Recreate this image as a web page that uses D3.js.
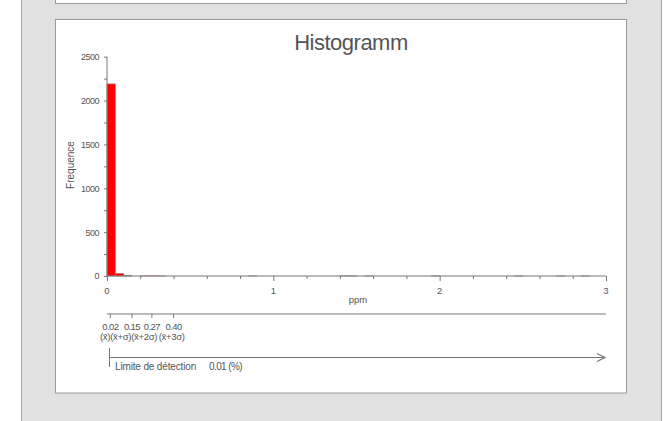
<!DOCTYPE html>
<html>
<head>
<meta charset="utf-8">
<script src="https://cdn.jsdelivr.net/npm/d3@7"></script>
<style>
  html, body { margin: 0; padding: 0; background: #fff; }
  svg { display: block; font-family: "Liberation Sans", Arial, sans-serif; }
  .lbl { fill: #555; }
</style>
</head>
<body>
<div id="chart"></div>
<script>
// histogram bins (ppm), only non-empty bins
const binStarts = [0, 0.05, 0.1, 0.2, 0.25, 0.3, 0.85, 1.4, 1.45, 1.55, 1.95, 2.45, 2.7, 2.85];
const counts = [2190, 30, 5, 1, 1, 1, 1, 1, 1, 1, 1, 1, 1, 1];
const binWidth = 0.05;

const xTicks = [0, 1, 2, 3];
const yTicks = [0, 500, 1000, 1500, 2000, 2500];

// summary statistics
const statValues = [0.02, 0.15, 0.27, 0.40];
const statTexts = ["0.02", "0.15", "0.27", "0.40"];
const statNames = ["(x\u0304)", "(x\u0304+\u03c3)", "(x\u0304+2\u03c3)", "(x\u0304+3\u03c3)"];
const detectionLimit = "0.01 (%)";

const W = 668, H = 421;
const svg = d3.select("#chart").append("svg").attr("width", W).attr("height", H);

// gray frame and panels
svg.append("rect").attr("x", 21.5).attr("y", -1).attr("width", 640).attr("height", H + 2)
    .attr("fill", "#e1e1e1").attr("stroke", "#a6a6a6");
svg.append("rect").attr("x", 55.5).attr("y", -10).attr("width", 571).attr("height", 13.5)
    .attr("fill", "#fff").attr("stroke", "#9a9a9a");
svg.append("rect").attr("x", 55.5).attr("y", 19.5).attr("width", 571).attr("height", 373.5)
    .attr("fill", "#fff").attr("stroke", "#9a9a9a");

const x = d3.scaleLinear().domain([0, 3]).range([107, 606]);
const y = d3.scaleLinear().domain([0, 2500]).range([276, 56.7]);

svg.append("text").attr("class", "lbl")
    .attr("x", 351).attr("y", 50).attr("text-anchor", "middle")
    .style("font-size", "22px").style("letter-spacing", "-0.5px")
    .text("Histogramm");

// bars
svg.append("g").selectAll("rect")
    .data(binStarts.map((b, i) => ({ b, c: counts[i] })))
    .join("rect")
    .attr("x", d => x(d.b))
    .attr("width", d => x(d.b + binWidth) - x(d.b))
    .attr("y", d => y(d.c))
    .attr("height", d => y(0) - y(d.c))
    .attr("fill", "#ff0000")
    .attr("stroke", "#a08080")
    .attr("stroke-width", 0.7);

// y axis
const yAxis = svg.append("g").attr("transform", `translate(${x(0)},0)`);
yAxis.call(d3.axisLeft(y).tickValues(d3.range(0, 2501, 250)).tickSize(3).tickFormat(d => yTicks.includes(d) ? d : ""));
yAxis.select(".domain").attr("stroke", "#777").attr("d", `M0,${y(2500)}V${y(0)}`);
yAxis.selectAll(".tick line").attr("stroke", "#777");
yAxis.selectAll(".tick text").attr("fill", "#555").attr("x", -8)
    .style("font-size", "9px").style("letter-spacing", "-0.5px").style("font-family", "inherit");

svg.append("text").attr("class", "lbl")
    .attr("transform", "translate(74,165) rotate(-90)")
    .attr("text-anchor", "middle").style("font-size", "10px")
    .text("Frequence");

// x axis
const xAxis = svg.append("g").attr("transform", `translate(0,${y(0)})`);
xAxis.call(d3.axisBottom(x).tickValues(d3.range(0, 3.01, 0.2)).tickSize(3).tickFormat(""));
xAxis.select(".domain").attr("stroke", "#777").attr("d", `M${x(0)},0H${x(3)}`);
xAxis.selectAll(".tick line").attr("stroke", "#777")
    .attr("y2", d => Math.abs(d - Math.round(d)) < 1e-6 ? 5 : 3);
svg.append("g").selectAll("text").data(xTicks).join("text").attr("class", "lbl")
    .attr("x", d => x(d)).attr("y", 294).attr("text-anchor", "middle")
    .style("font-size", "9.5px").text(d => d);
svg.append("text").attr("class", "lbl")
    .attr("x", 358).attr("y", 303).attr("text-anchor", "middle")
    .style("font-size", "9.5px").text("ppm");

// statistics axis
svg.append("line").attr("x1", x(0)).attr("x2", x(3)).attr("y1", 314).attr("y2", 314)
    .attr("stroke", "#777");
svg.append("g").selectAll("line").data(statValues).join("line")
    .attr("x1", d => x(d)).attr("x2", d => x(d)).attr("y1", 314).attr("y2", 318)
    .attr("stroke", "#777");
svg.append("g").selectAll("text").data(statValues).join("text").attr("class", "lbl")
    .attr("x", d => x(d)).attr("y", 329.5).attr("text-anchor", "middle")
    .style("font-size", "9.5px").style("letter-spacing", "-0.6px")
    .text((d, i) => statTexts[i]);

// names packed left to right
let cursor = 100;
statNames.forEach((s, i) => {
    const t = svg.append("text").attr("class", "lbl")
        .attr("x", cursor).attr("y", 339.5)
        .style("font-size", "9.5px").style("letter-spacing", "-0.3px")
        .text(s);
    cursor += t.node().getComputedTextLength() + (i === 2 ? 1.5 : 0);
});

// detection limit arrow
svg.append("line").attr("x1", 109.5).attr("x2", 109.5).attr("y1", 348).attr("y2", 367)
    .attr("stroke", "#777");
svg.append("line").attr("x1", 109.5).attr("x2", 605).attr("y1", 357.5).attr("y2", 357.5)
    .attr("stroke", "#777");
svg.append("path").attr("d", "M597,353.5L605,357.5L597,361.5")
    .attr("fill", "none").attr("stroke", "#777").attr("stroke-width", 1.2);
svg.append("text").attr("class", "lbl")
    .attr("x", 115).attr("y", 370)
    .style("font-size", "10px").style("letter-spacing", "-0.15px")
    .text("Limite de détection");
svg.append("text").attr("class", "lbl")
    .attr("x", 209).attr("y", 370)
    .style("font-size", "10px").style("letter-spacing", "-0.6px")
    .text(detectionLimit);
</script>
</body>
</html>
